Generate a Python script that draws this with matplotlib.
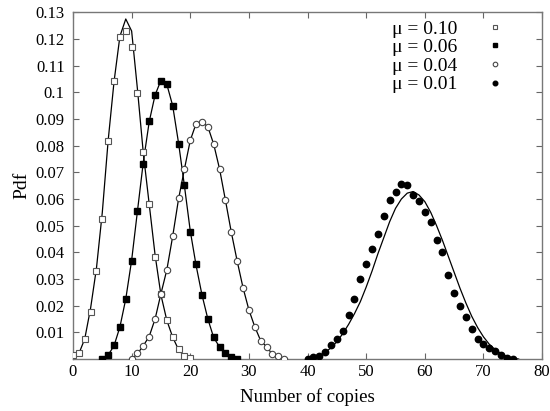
import matplotlib.pyplot as plt

plt.rcParams['font.family'] = ['Liberation Serif', 'DejaVu Serif']

# simulation points
x1 = list(range(0, 21))
p1 = [0.0015, 0.0021, 0.0075, 0.0177, 0.0331, 0.0524, 0.0818, 0.1042, 0.1207, 0.123,
      0.117, 0.0999, 0.0777, 0.0581, 0.0381, 0.0244, 0.0146, 0.0082, 0.0036, 0.0011, 0.0005]
x2 = list(range(5, 29))
p2 = [0.0, 0.0015, 0.0052, 0.0121, 0.0225, 0.0367, 0.0556, 0.073, 0.0891, 0.099,
      0.1042, 0.103, 0.0949, 0.0806, 0.0652, 0.0475, 0.0355, 0.024, 0.0149, 0.0082,
      0.0046, 0.0021, 0.0009, 0.0]
x3 = list(range(10, 37))
p3 = [0.0, 0.0021, 0.005, 0.0084, 0.015, 0.0245, 0.0334, 0.046, 0.0602, 0.0712,
      0.082, 0.0883, 0.0887, 0.0871, 0.0805, 0.0712, 0.0595, 0.0475, 0.0367, 0.0267,
      0.0184, 0.0121, 0.0069, 0.0046, 0.0018, 0.0011, 0.0]
x4 = list(range(40, 76))
p4 = [0.0, 0.0008, 0.0012, 0.0025, 0.0051, 0.0074, 0.0106, 0.0165, 0.0224, 0.03,
      0.0357, 0.0411, 0.047, 0.0537, 0.0597, 0.0627, 0.0657, 0.0651, 0.0614, 0.0591,
      0.0552, 0.0514, 0.0446, 0.0401, 0.0316, 0.0247, 0.02, 0.0159, 0.0111, 0.0076,
      0.0057, 0.0042, 0.0029, 0.0015, 0.0004, 0.0]

# theoretical curves
cx1 = list(range(0, 21))
c1 = [0.0, 0.002, 0.0075, 0.019, 0.034, 0.055, 0.082, 0.104, 0.121, 0.1275,
      0.123, 0.101, 0.077, 0.058, 0.039, 0.024, 0.0145, 0.0082, 0.0035, 0.001, 0.0]
cx2 = list(range(5, 29))
c2 = [0.0, 0.0015, 0.005, 0.012, 0.0225, 0.037, 0.0556, 0.074, 0.089, 0.099,
      0.1045, 0.103, 0.095, 0.081, 0.065, 0.048, 0.035, 0.024, 0.015, 0.008,
      0.0045, 0.002, 0.0008, 0.0]
cx3 = list(range(10, 37))
c3 = [0.0, 0.002, 0.005, 0.0085, 0.015, 0.0245, 0.0334, 0.046, 0.06, 0.0712,
      0.082, 0.0883, 0.0889, 0.0871, 0.0805, 0.0712, 0.0595, 0.0475, 0.0367, 0.0267,
      0.0184, 0.0121, 0.0069, 0.0046, 0.0018, 0.0008, 0.0]
cx4 = list(range(40, 77))
c4 = [0.0, 0.0005, 0.0012, 0.0025, 0.0042, 0.0065, 0.0095, 0.013, 0.017, 0.0215,
      0.027, 0.033, 0.0395, 0.0455, 0.0515, 0.0565, 0.06, 0.0622, 0.0628, 0.0615,
      0.059, 0.055, 0.05, 0.0445, 0.0385, 0.0325, 0.0265, 0.021, 0.016, 0.0118,
      0.0083, 0.0055, 0.0035, 0.002, 0.001, 0.0004, 0.0]

labels = ['μ = 0.10', 'μ = 0.06', 'μ = 0.04', 'μ = 0.01']
xticks = [0, 10, 20, 30, 40, 50, 60, 70, 80]
yticks = [0.01, 0.02, 0.03, 0.04, 0.05, 0.06, 0.07, 0.08, 0.09, 0.1, 0.11, 0.12, 0.13]
ytick_labels = ['0.01', '0.02', '0.03', '0.04', '0.05', '0.06', '0.07', '0.08',
                '0.09', '0.1', '0.11', '0.12', '0.13']

fig = plt.figure(figsize=(5.5, 4.11), dpi=100)
ax = fig.add_axes([0.1327, 0.1265, 0.853, 0.8435])

for cx, c in [(cx1, c1), (cx2, c2), (cx3, c3), (cx4, c4)]:
    ax.plot(cx, c, color='black', lw=0.9, zorder=2)

ax.plot(x1, p1, 's', ms=4.3, mfc='white', mec='#555555', mew=0.8, label=labels[0], zorder=3)
ax.plot(x2, p2, 's', ms=4.0, mfc='black', mec='black', label=labels[1], zorder=3)
ax.plot(x3, p3, 'o', ms=4.6, mfc='white', mec='#444444', mew=0.8, label=labels[2], zorder=3)
ax.plot(x4, p4, 'o', ms=4.6, mfc='black', mec='black', label=labels[3], zorder=3)

ax.set_xlim(0, 80)
ax.set_ylim(0, 0.13)
ax.set_xticks(xticks)
ax.set_yticks(yticks)
ax.set_yticklabels(ytick_labels)
ax.tick_params(direction='in', top=True, right=True, labelsize=12, length=4,
               color='#666666', width=0.8)
ax.tick_params(axis='y', pad=6)
for s in ax.spines.values():
    s.set_color('#777777')
    s.set_linewidth(1)

ax.set_xlabel('Number of copies', fontsize=13.5, labelpad=6)
ax.set_ylabel('Pdf', fontsize=14, labelpad=4)

leg = ax.legend(loc='upper right', markerfirst=False, frameon=False, fontsize=14,
                handlelength=1.0, handletextpad=1.45, labelspacing=0.05,
                borderaxespad=0.0, bbox_to_anchor=(0.937, 1.0))
for h in leg.legend_handles:
    h.set_markersize(3.3)

fig.savefig('out.png', dpi=100)
